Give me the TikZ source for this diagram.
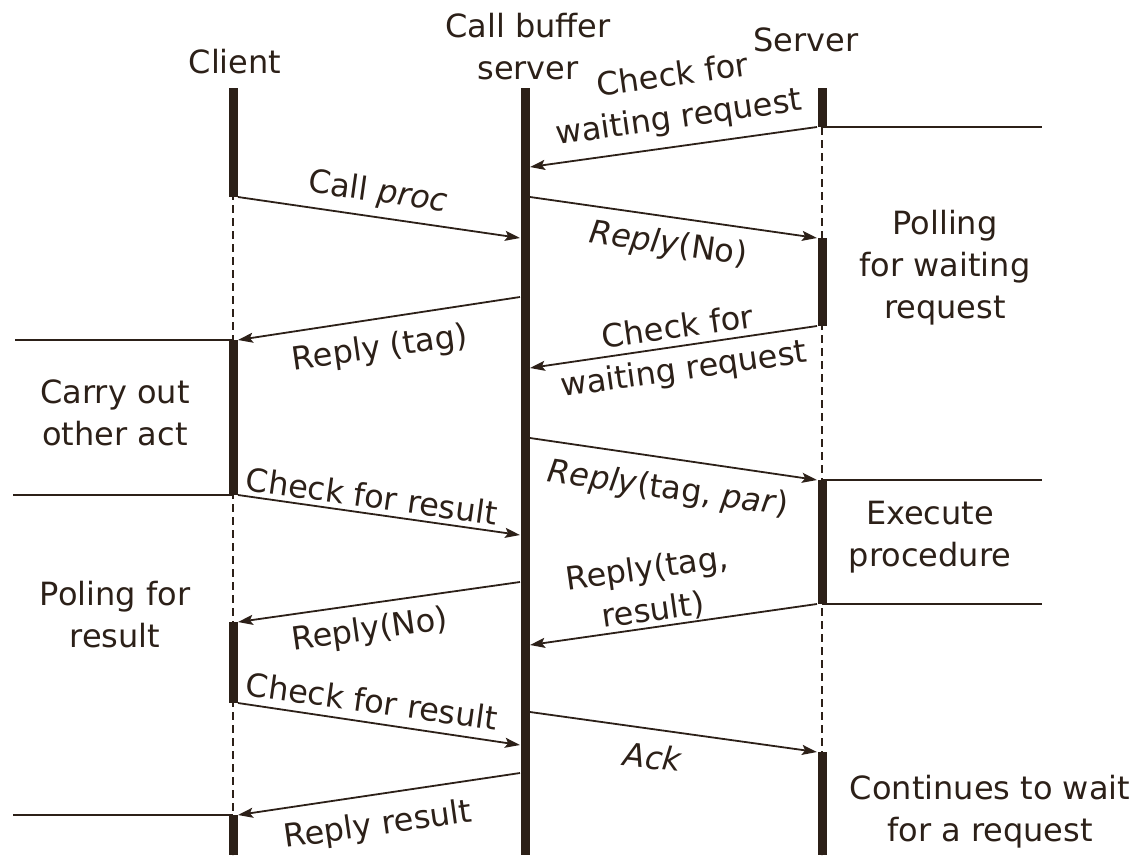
\documentclass[tikz,border=0pt]{standalone}
\usepackage{fontspec}
\setmainfont{DejaVu Sans}
\usetikzlibrary{arrows.meta}
\definecolor{ink}{RGB}{44,32,24}
\begin{document}
\begin{tikzpicture}[x=1pt,y=-1pt,
  txt/.style={font=\fontsize{32}{42}\selectfont, text=ink, inner sep=0pt, align=center},
  bar/.style={draw=ink, line width=9pt},
  life/.style={draw=ink, line width=1.4pt, dash pattern=on 8pt off 5pt},
  rule/.style={draw=ink, line width=2pt},
  msg/.style={draw=ink, line width=1.8pt, -{Stealth[length=15pt,width=10pt,inset=3pt]}}]
\useasboundingbox (0,0) rectangle (1142,855);

% lifelines
\draw[life] (233,88) -- (233,855);
\draw[life] (822,88) -- (822,855);

% activation bars: client
\draw[bar] (233,88) -- (233,197);
\draw[bar] (233,340) -- (233,495);
\draw[bar] (233,622) -- (233,703);
\draw[bar] (233,815) -- (233,855);
% call buffer server
\draw[bar] (525,88) -- (525,855);
% server
\draw[bar] (822,88) -- (822,127);
\draw[bar] (822,238) -- (822,326);
\draw[bar] (822,480) -- (822,604);
\draw[bar] (822,752) -- (822,855);

% activity boundaries
\draw[rule] (822,127) -- (1042,127);
\draw[rule] (15,340) -- (233,340);
\draw[rule] (13,495) -- (233,495);
\draw[rule] (822,480) -- (1042,480);
\draw[rule] (822,604) -- (1042,604);
\draw[rule] (13,815) -- (233,815);

% headings
\node[txt] (client) at (235,62) {Client};
\node[txt] (buffer) at (528,47) {Call buffer\\server};
\node[txt] (server) at (806,40) {Server};

% message end points
\coordinate (s1) at (817,127);  \coordinate (b1) at (530,167);
\coordinate (c2) at (238,197);  \coordinate (b2) at (520,238);
\coordinate (b3) at (530,197);  \coordinate (s3) at (817,238);
\coordinate (b4) at (520,297);  \coordinate (c4) at (238,340);
\coordinate (s5) at (817,326);  \coordinate (b5) at (530,368);
\coordinate (b6) at (530,438);  \coordinate (s6) at (817,480);
\coordinate (c7) at (238,495);  \coordinate (b7) at (520,535);
\coordinate (b8) at (520,582);  \coordinate (c8) at (238,622);
\coordinate (s9) at (817,604);  \coordinate (b9) at (530,645);
\coordinate (c10) at (238,703); \coordinate (b10) at (520,745);
\coordinate (b11) at (530,712); \coordinate (s11) at (817,752);
\coordinate (b12) at (520,773); \coordinate (c12) at (238,815);

% messages
\draw[msg] (s1) -- (b1);
\draw[msg] (c2) -- (b2);
\draw[msg] (b3) -- (s3);
\draw[msg] (b4) -- (c4);
\draw[msg] (s5) -- (b5);
\draw[msg] (b6) -- (s6);
\draw[msg] (c7) -- (b7);
\draw[msg] (b8) -- (c8);
\draw[msg] (s9) -- (b9);
\draw[msg] (c10) -- (b10);
\draw[msg] (b11) -- (s11);
\draw[msg] (b12) -- (c12);

% message labels
\node[txt, rotate=8]  (m1)  at (676,98)  {Check for\\waiting request};
\node[txt, rotate=-8] (m2)  at (378,193) {Call \textit{proc}};
\node[txt, rotate=-8] (m3)  at (668,245) {\textit{Reply}(No)};
\node[txt, rotate=8]  (m4)  at (380,349) {Reply (tag)};
\node[txt, rotate=8]  (m5)  at (681,350) {Check for\\waiting request};
\node[txt, rotate=-8] (m6)  at (668,490) {\textit{Reply}(tag, \textit{par})};
\node[txt, rotate=-8] (m7)  at (372,496) {Check for result};
\node[txt, rotate=8]  (m9)  at (650,590) {Reply(tag,\\result)};
\node[txt, rotate=8]  (m8)  at (370,631) {Reply(No)};
\node[txt, rotate=-8] (m10) at (372,701) {Check for result};
\node[txt, rotate=-6] (m11) at (653,757) {\textit{Ack}};
\node[txt, rotate=8]  (m12) at (378,826) {Reply result};

% activity notes
\node[txt] (poll)  at (945,268) {Polling\\for waiting\\request};
\node[txt] (carry) at (115,413) {Carry out\\other act};
\node[txt] (exec)  at (930,537) {Execute\\procedure};
\node[txt] (res)   at (115,615) {Poling for\\result};
\node[txt] (wait)  at (990,812) {Continues to wait\\for a request};
\end{tikzpicture}
\end{document}
